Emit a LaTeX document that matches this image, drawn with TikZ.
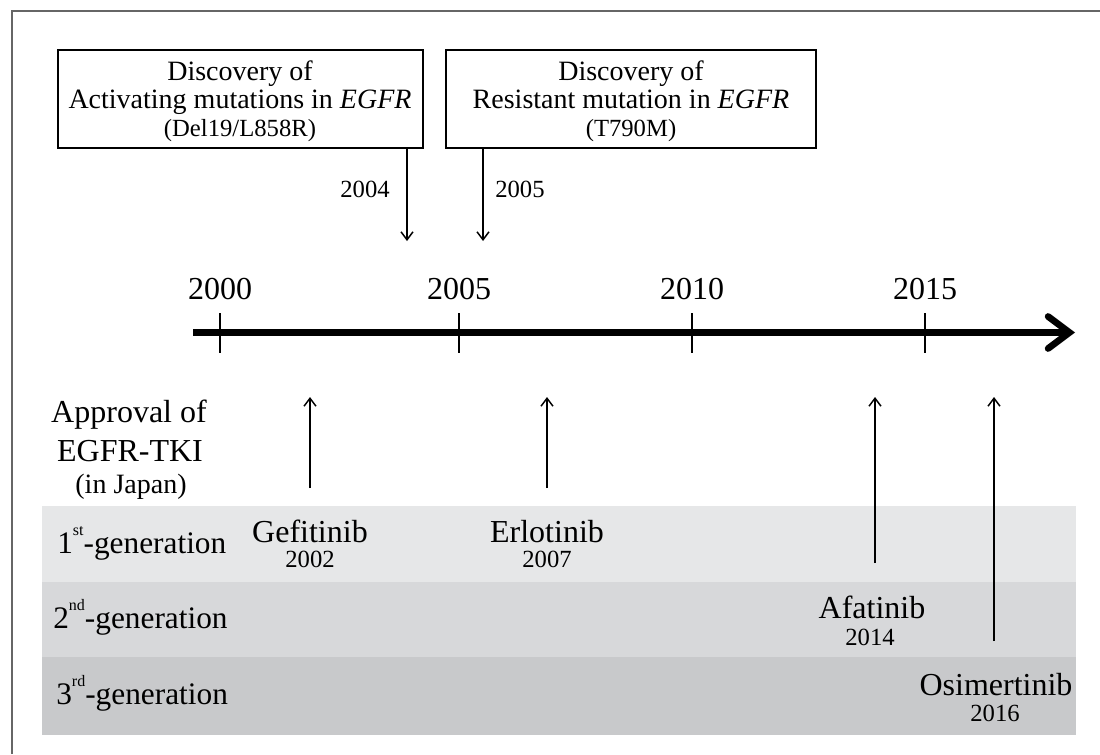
\documentclass[tikz,border=0pt]{standalone}
\usepackage{fontspec}
\setmainfont{Liberation Serif}
\usetikzlibrary{arrows.meta}
\definecolor{bandA}{HTML}{E6E7E8}
\definecolor{bandB}{HTML}{D7D8DA}
\definecolor{bandC}{HTML}{C8C9CB}
\definecolor{framegray}{HTML}{666666}
\newcommand{\gsup}[1]{\raisebox{0.55em}{\fontsize{12}{12}\selectfont #1}}
\tikzset{
  txt/.style={inner sep=0pt, anchor=base},
  fbig/.style={font=\fontsize{24}{28}\selectfont},
  fgen/.style={font=\fontsize{23.5}{28}\selectfont},
  fmid/.style={font=\fontsize{21}{25}\selectfont},
  fsmall/.style={font=\fontsize{18.5}{22}\selectfont},
  evbox/.style={draw, line width=2.1pt, inner sep=0pt},
  thinarrow/.style={line width=1.1pt, -{Straight Barb[length=6pt,width=9pt,line width=1.1pt]}},
  tickline/.style={line width=1.1pt},
}
\begin{document}
\begin{tikzpicture}[x=0.75pt,y=-0.75pt]
\useasboundingbox (0,0) rectangle (1100,754);
% frame (top and left visible)
\draw[framegray, line width=1.1pt] (12,754) -- (12,11) -- (1100,11);
% bands
\fill[bandA] (42,506) rectangle (1076,582);
\fill[bandB] (42,582) rectangle (1076,657);
\fill[bandC] (42,657) rectangle (1076,735);
% top boxes
\node[evbox, minimum width=273.75pt, minimum height=73.5pt] (box1) at (240.5,99) {};
\node[evbox, minimum width=277.5pt, minimum height=73.5pt] (box2) at (631,99) {};
\node[txt,fmid] (b1l1) at (240,80) {Discovery of};
\node[txt,fmid] (b1l2) at (240,108) {Activating mutations in \textit{EGFR}};
\node[txt,fsmall] (b1l3) at (240,136) {(Del19/L858R)};
\node[txt,fmid] (b2l1) at (631,80) {Discovery of};
\node[txt,fmid] (b2l2) at (631,108) {Resistant mutation in \textit{EGFR}};
\node[txt,fsmall] (b2l3) at (631,136) {(T790M)};
% discovery arrows
\coordinate (d2004) at (407,241);
\coordinate (d2005) at (483,241);
\draw[thinarrow] (box1.south -| d2004) -- (d2004);
\draw[thinarrow] (box2.south -| d2005) -- (d2005);
\node[txt,fsmall,anchor=base east] (y2004) at (390,197) {2004};
\node[txt,fsmall,anchor=base west] (y2005) at (495,197) {2005};
% axis
\coordinate (axs) at (193,332.5);
\coordinate (axe) at (1075,332.5);
\draw[line width=5pt, -{Straight Barb[length=16pt,width=24pt,line width=5pt,line cap=round]}] (axs) -- (axe);
\foreach \yr/\xx in {2000/220,2005/459,2010/692,2015/925}{
  \coordinate (t\yr) at (\xx,313);
  \draw[tickline] (t\yr) -- (\xx,353);
  \node[txt,fbig] (l\yr) at (\xx,299) {\yr};
}
% approval label
\node[txt,fbig] (ap1) at (129,422) {Approval of};
\node[txt,fbig] (ap2) at (130,461) {EGFR-TKI};
\node[txt,fmid] (ap3) at (131,493) {(in Japan)};
% generation labels
\node[txt,fgen,anchor=base west] (g1) at (57,553) {1\gsup{st}-generation};
\node[txt,fgen,anchor=base west] (g2) at (53,628) {2\gsup{nd}-generation};
\node[txt,fgen,anchor=base west] (g3) at (56,704) {3\gsup{rd}-generation};
% drugs
\node[txt,fbig] (gef) at (310,542) {Gefitinib};
\node[txt,fsmall] (gefy) at (310,567) {2002};
\node[txt,fbig] (erl) at (547,542) {Erlotinib};
\node[txt,fsmall] (erly) at (547,567) {2007};
\node[txt,fbig] (afa) at (872,618) {Afatinib};
\node[txt,fsmall] (afay) at (870,645) {2014};
\node[txt,fbig] (osi) at (996,695) {Osimertinib};
\node[txt,fsmall] (osiy) at (995,721) {2016};
% approval arrows
\coordinate (tg) at (310,397); \coordinate (sg) at (310,488);
\coordinate (te) at (547,397); \coordinate (se) at (547,488);
\coordinate (ta) at (875,397); \coordinate (sa) at (875,563);
\coordinate (to) at (994,397); \coordinate (so) at (994,641);
\draw[thinarrow] (sg) -- (tg);
\draw[thinarrow] (se) -- (te);
\draw[thinarrow] (sa) -- (ta);
\draw[thinarrow] (so) -- (to);
\end{tikzpicture}
\end{document}
